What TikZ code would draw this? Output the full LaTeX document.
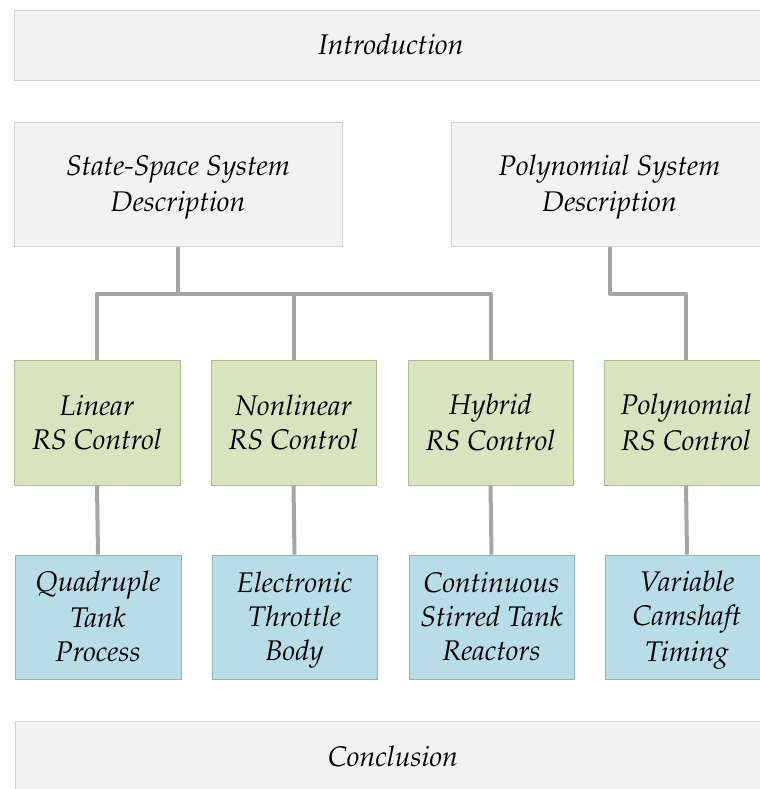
\documentclass[tikz,border=0pt]{standalone}
\usepackage[T1]{fontenc}
\usepackage{mathpazo}
\definecolor{greyfill}{HTML}{F2F2F2}
\definecolor{greyline}{HTML}{D4D4D4}
\definecolor{greenfill}{HTML}{D8E4BD}
\definecolor{greenline}{HTML}{AEBE8E}
\definecolor{bluefill}{HTML}{B7DDE8}
\definecolor{blueline}{HTML}{8FB4C2}
\definecolor{connector}{HTML}{A5A5A5}
% one line of box text with a fixed strut, so every box centres alike
\newcommand{\boxline}[1]{\strut\raisebox{-2.25pt}{#1}}
\begin{document}
\begin{tikzpicture}[x=0.75pt,y=-0.75pt,
  box/.style={rectangle,draw,line width=0.75pt,inner sep=0pt,
    align=center,font=\itshape\fontsize{21.3}{25.5}\selectfont},
  greybox/.style={box,fill=greyfill,draw=greyline},
  greenbox/.style={box,fill=greenfill,draw=greenline},
  bluebox/.style={box,fill=bluefill,draw=blueline},
  conn/.style={draw=connector,line width=3pt,line join=round}]
\useasboundingbox (0,0) rectangle (760,789);
\clip (0,0) rectangle (760,789);
% section frames
\node[greybox,minimum width=754*0.75pt,minimum height=70*0.75pt] (intro) at (391,45) {\boxline{Introduction}};
\node[greybox,minimum width=328*0.75pt,minimum height=124*0.75pt] (ss) at (178,184) {\boxline{State-Space System}\\\boxline{Description}};
\node[greybox,minimum width=317*0.75pt,minimum height=124*0.75pt] (ps) at (609.5,184) {\boxline{Polynomial System}\\\boxline{Description}};
% control methods
\node[greenbox,minimum width=166*0.75pt,minimum height=125*0.75pt] (lin) at (97,422.5) {\boxline{Linear}\\\boxline{RS Control}};
\node[greenbox,minimum width=165*0.75pt,minimum height=125*0.75pt] (non) at (293.5,422.5) {\boxline{Nonlinear}\\\boxline{RS Control}};
\node[greenbox,minimum width=165*0.75pt,minimum height=125*0.75pt] (hyb) at (490.5,422.5) {\boxline{Hybrid}\\\boxline{RS Control}};
\node[greenbox,minimum width=164*0.75pt,minimum height=125*0.75pt] (pol) at (686,422.5) {\boxline{Polynomial}\\\boxline{RS Control}};
% applications
\node[bluebox,minimum width=166*0.75pt,minimum height=124*0.75pt] (quad) at (98,617) {\boxline{Quadruple}\\\boxline{Tank}\\\boxline{Process}};
\node[bluebox,minimum width=165*0.75pt,minimum height=124*0.75pt] (etb) at (294.5,617) {\boxline{Electronic}\\\boxline{Throttle}\\\boxline{Body}};
\node[bluebox,minimum width=165*0.75pt,minimum height=124*0.75pt] (cstr) at (491.5,617) {\boxline{Continuous}\\\boxline{Stirred Tank}\\\boxline{Reactors}};
\node[bluebox,minimum width=164*0.75pt,minimum height=124*0.75pt] (vct) at (687,617) {\boxline{Variable}\\\boxline{Camshaft}\\\boxline{Timing}};
\node[greybox,minimum width=756*0.75pt,minimum height=72*0.75pt] (concl) at (393,757) {\boxline{Conclusion}};
% connectors
\coordinate (bar) at (178,293.5);
\draw[conn] (ss.south) -- (ss.south |- bar);
\draw[conn] (lin.north) -- (lin.north |- bar) -- (hyb.north |- bar) -- (hyb.north);
\draw[conn] (non.north) -- (non.north |- bar);
\draw[conn] (ps.south) -- (ps.south |- bar) -- (pol.north |- bar) -- (pol.north);
\draw[conn] (lin.south) -- (quad.north);
\draw[conn] (non.south) -- (etb.north);
\draw[conn] (hyb.south) -- (cstr.north);
\draw[conn] (pol.south) -- (vct.north);
\end{tikzpicture}
\end{document}
